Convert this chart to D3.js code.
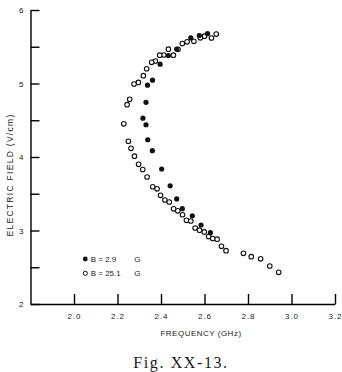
<!DOCTYPE html>
<html>
<head>
<meta charset="utf-8">
<script src="https://cdn.jsdelivr.net/npm/d3@7"></script>
<style>
  html, body { margin: 0; padding: 0; background: #fff; }
  svg { display: block; }
  .axis text { font-family: "Liberation Sans", Arial, sans-serif; font-size: 8px; fill: #1a1a1a; }
  .axis path, .axis line { stroke: #000; stroke-width: 1.4; }
</style>
</head>
<body>
<svg id="chart" width="342" height="372"></svg>
<script>
// ---- Data ----
const seriesNames = ["B = 2.9", "B = 25.1"];
const seriesUnit = "G";

// B = 2.9 G (filled circles)
const freqB29 = [2.614, 2.576, 2.537, 2.472, 2.434, 2.396, 2.361, 2.338, 2.331, 2.317,
                 2.331, 2.339, 2.360, 2.403, 2.442, 2.472, 2.498, 2.544, 2.584, 2.627];
const fieldB29 = [5.678, 5.653, 5.620, 5.469, 5.381, 5.263, 5.045, 4.977, 4.744, 4.528,
                  4.439, 4.235, 4.086, 3.837, 3.608, 3.429, 3.297, 3.200, 3.075, 2.970];

// B = 25.1 G (open circles)
const freqB251 = [2.654, 2.632, 2.600, 2.581, 2.551, 2.520, 2.498, 2.478, 2.457, 2.434,
                  2.413, 2.394, 2.374, 2.357, 2.334, 2.319, 2.296, 2.276, 2.256, 2.244,
                  2.229, 2.250, 2.262, 2.278, 2.297, 2.316, 2.336, 2.362, 2.382, 2.398,
                  2.418, 2.438, 2.458, 2.477, 2.499, 2.517, 2.537, 2.557, 2.577, 2.599,
                  2.619, 2.638, 2.658, 2.678, 2.699, 2.779, 2.815, 2.858, 2.900, 2.941];
const fieldB251 = [5.673, 5.619, 5.644, 5.622, 5.574, 5.567, 5.544, 5.465, 5.385, 5.467,
                   5.388, 5.385, 5.306, 5.288, 5.201, 5.106, 5.014, 4.993, 4.785, 4.712,
                   4.452, 4.214, 4.118, 4.011, 3.901, 3.830, 3.728, 3.595, 3.567, 3.479,
                   3.415, 3.388, 3.295, 3.268, 3.214, 3.139, 3.129, 3.034, 3.004, 2.980,
                   2.918, 2.891, 2.882, 2.785, 2.725, 2.690, 2.644, 2.615, 2.517, 2.431];

const xTicks = [2.0, 2.2, 2.4, 2.6, 2.8, 3.0, 3.2];
const yTicks = [2, 2.5, 3, 3.5, 4, 4.5, 5, 5.5, 6];
const xTitle = "FREQUENCY (GHz)";
const yTitle = "ELECTRIC FIELD (V/cm)";
const caption = "Fig. XX-13.";

// ---- Chart ----
const svg = d3.select("#chart");
const x = d3.scaleLinear().domain([1.8, 3.2]).range([30.5, 335]);
const y = d3.scaleLinear().domain([2, 6]).range([304, 10]);

const xAxis = d3.axisBottom(x)
  .tickValues(xTicks)
  .tickSizeInner(-10)
  .tickSizeOuter(0)
  .tickPadding(9.5)
  .tickFormat(d3.format(".1f"));

svg.append("g").attr("class", "axis x")
  .attr("transform", `translate(0,${y(2)})`)
  .call(xAxis)
  .selectAll("text").style("letter-spacing", "1px");

const yAxis = d3.axisLeft(y)
  .tickValues(yTicks)
  .tickSizeInner(-9)
  .tickSizeOuter(0)
  .tickPadding(7)
  .tickFormat(d => Number.isInteger(d) ? d3.format("d")(d) : "");

svg.append("g").attr("class", "axis y")
  .attr("transform", `translate(${x(1.8)},0)`)
  .call(yAxis);

// Axis titles
svg.append("text")
  .attr("x", 201).attr("y", 336)
  .attr("text-anchor", "middle")
  .style("font-family", '"Liberation Sans", Arial, sans-serif')
  .style("font-size", "8px")
  .style("letter-spacing", "0.5px")
  .style("fill", "#1a1a1a")
  .text(xTitle);

svg.append("text")
  .attr("transform", "translate(12.5,175) rotate(-90)")
  .attr("text-anchor", "middle")
  .style("font-family", '"Liberation Sans", Arial, sans-serif')
  .style("font-size", "8.5px")
  .style("letter-spacing", "1.3px")
  .style("fill", "#1a1a1a")
  .text(yTitle);

// Points
const openData = freqB251.map((f, i) => ({ f, e: fieldB251[i] }));
const filledData = freqB29.map((f, i) => ({ f, e: fieldB29[i] }));

svg.append("g").selectAll("circle")
  .data(openData).join("circle")
  .attr("cx", d => x(d.f)).attr("cy", d => y(d.e))
  .attr("r", 2.3)
  .attr("fill", "#fff").attr("stroke", "#111").attr("stroke-width", 1.1);

svg.append("g").selectAll("circle")
  .data(filledData).join("circle")
  .attr("cx", d => x(d.f)).attr("cy", d => y(d.e))
  .attr("r", 2.6)
  .attr("fill", "#111");

// Legend
const legend = svg.append("g").attr("class", "legend");
const legRows = [
  { name: seriesNames[0], filled: true, yy: 259 },
  { name: seriesNames[1], filled: false, yy: 273.3 }
];
legRows.forEach(r => {
  legend.append("circle")
    .attr("cx", 85.3).attr("cy", r.yy).attr("r", r.filled ? 2.4 : 2.1)
    .attr("fill", r.filled ? "#111" : "#fff")
    .attr("stroke", "#111").attr("stroke-width", r.filled ? 0 : 1);
  legend.append("text")
    .attr("x", 90.7).attr("y", r.yy + 3)
    .style("font-family", '"Liberation Sans", Arial, sans-serif')
    .style("font-size", "8px").style("fill", "#1a1a1a")
    .text(r.name);
  legend.append("text")
    .attr("x", 134.3).attr("y", r.yy + 3)
    .style("font-family", '"Liberation Sans", Arial, sans-serif')
    .style("font-size", "8px").style("fill", "#1a1a1a")
    .text(seriesUnit);
});

// Caption
svg.append("text")
  .attr("x", 181).attr("y", 368)
  .attr("text-anchor", "middle")
  .style("font-family", '"Liberation Serif", "Times New Roman", serif')
  .style("font-size", "16px")
  .style("letter-spacing", "1.6px")
  .style("fill", "#1a1a1a")
  .text(caption);
</script>
</body>
</html>
